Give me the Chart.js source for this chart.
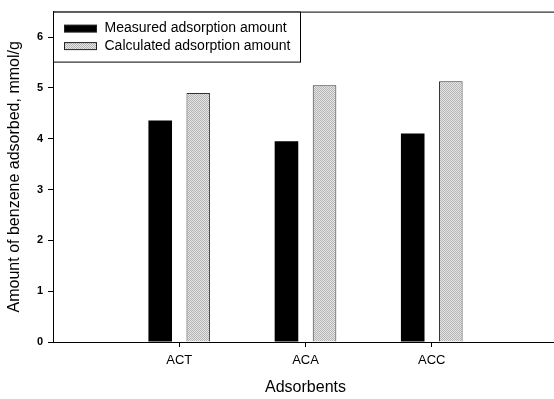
<!DOCTYPE html>
<html>
<head>
<meta charset="utf-8">
<script src="https://cdn.jsdelivr.net/npm/chart.js@4/dist/chart.umd.min.js"></script>
<style>
  html, body { margin: 0; padding: 0; background: #fff; overflow: hidden; }
  #wrap { width: 554px; height: 399px; overflow: hidden; }
  canvas { display: block; }
</style>
</head>
<body>
<div id="wrap"><canvas id="c" width="558" height="399"></canvas></div>
<script>
// ---- data ----
const categories = ['ACT', 'ACA', 'ACC'];
const measured = [4.36, 3.95, 4.10];
const calculated = [4.90, 5.05, 5.13];
const seriesNames = ['Measured adsorption amount', 'Calculated adsorption amount'];
const yTicks = [0, 1, 2, 3, 4, 5, 6];
const yTitle = 'Amount of benzene adsorbed, mmol/g';
const xTitle = 'Adsorbents';

// stippled gray fill
function makePattern() {
  const p = document.createElement('canvas');
  p.width = 2; p.height = 2;
  const g = p.getContext('2d');
  g.fillStyle = '#e6e6e6'; g.fillRect(0, 0, 2, 2);
  g.fillStyle = '#b4b4b4'; g.fillRect(0, 0, 1, 1); g.fillRect(1, 1, 1, 1);
  return g.createPattern(p, 'repeat');
}
const grayFill = makePattern();

const FONT = "'Liberation Sans', Arial, sans-serif";

const frameAndLegend = {
  id: 'frameAndLegend',
  afterDraw(chart) {
    const ctx = chart.ctx;
    const a = chart.chartArea;
    ctx.save();
    // top frame line
    ctx.strokeStyle = '#000';
    ctx.lineWidth = 1;
    ctx.beginPath();
    ctx.moveTo(a.left, a.top + 0.5);
    ctx.lineTo(a.right, a.top + 0.5);
    ctx.stroke();
    // legend box
    const bx = a.left + 0.5, by = a.top + 0.5, bw = 247, bh = 50;
    ctx.fillStyle = '#fff';
    ctx.fillRect(bx, by, bw, bh);
    ctx.strokeRect(bx, by, bw, bh);
    chart.data.datasets.forEach((ds, i) => {
      const sy = by + 13 + i * 17.5;
      ctx.fillStyle = ds.backgroundColor;
      ctx.fillRect(bx + 11, sy, 32, 7);
      ctx.strokeStyle = '#222';
      ctx.lineWidth = 1;
      ctx.strokeRect(bx + 11, sy, 32, 7);
      ctx.fillStyle = '#000';
      ctx.font = '14px ' + FONT;
      ctx.textBaseline = 'alphabetic';
      ctx.textAlign = 'left';
      ctx.fillText(ds.label, bx + 51, sy + 7);
    });
    ctx.restore();
  }
};

new Chart(document.getElementById('c'), {
  type: 'bar',
  data: {
    datasets: [
      {
        label: seriesNames[0],
        data: categories.map((c, i) => ({ x: i + 1, y: measured[i] })),
        backgroundColor: '#000',
        borderColor: '#000',
        borderWidth: 0
      },
      {
        label: seriesNames[1],
        data: categories.map((c, i) => ({ x: i + 1, y: calculated[i] })),
        backgroundColor: grayFill,
        borderColor: '#333',
        borderWidth: 1
      }
    ]
  },
  options: {
    responsive: false,
    animation: false,
    devicePixelRatio: 1,
    categoryPercentage: 0.603,
    barPercentage: 0.62,
    layout: { padding: { top: 7, right: 0, left: 0, bottom: 0 } },
    plugins: { legend: { display: false }, tooltip: { enabled: false } },
    scales: {
      x: {
        type: 'linear',
        offset: false,
        min: 0,
        max: 4,
        afterBuildTicks(s) { s.ticks = categories.map((c, i) => ({ value: i + 1 })); },
        afterFit(s) { s.height = 57; },
        ticks: {
          callback: (v) => categories[v - 1] || '',
          color: '#000',
          font: { family: FONT, size: 13 },
          padding: 6,
          maxRotation: 0,
          autoSkip: false
        },
        grid: { offset: false, drawOnChartArea: false, tickLength: 5, color: '#000', tickWidth: 1 },
        border: { display: true, color: '#000', width: 1 },
        title: {
          display: true,
          text: xTitle,
          color: '#000',
          font: { family: FONT, size: 16, lineHeight: 1 },
          padding: { top: 0, bottom: 3 }
        }
      },
      y: {
        min: 0,
        max: 6.5,
        afterBuildTicks(s) { s.ticks = yTicks.map(v => ({ value: v })); },
        afterFit(s) { s.width = 53; },
        ticks: {
          color: '#000',
          font: { family: FONT, size: 11, weight: 'bold' },
          padding: 5
        },
        grid: { drawOnChartArea: false, tickLength: 5, color: '#000', tickWidth: 1 },
        border: { display: true, color: '#000', width: 1 },
        title: {
          display: true,
          text: yTitle,
          color: '#000',
          font: { family: FONT, size: 16, lineHeight: 1 },
          padding: { top: 7, bottom: 0 }
        }
      }
    }
  },
  plugins: [frameAndLegend]
});
</script>
</body>
</html>
